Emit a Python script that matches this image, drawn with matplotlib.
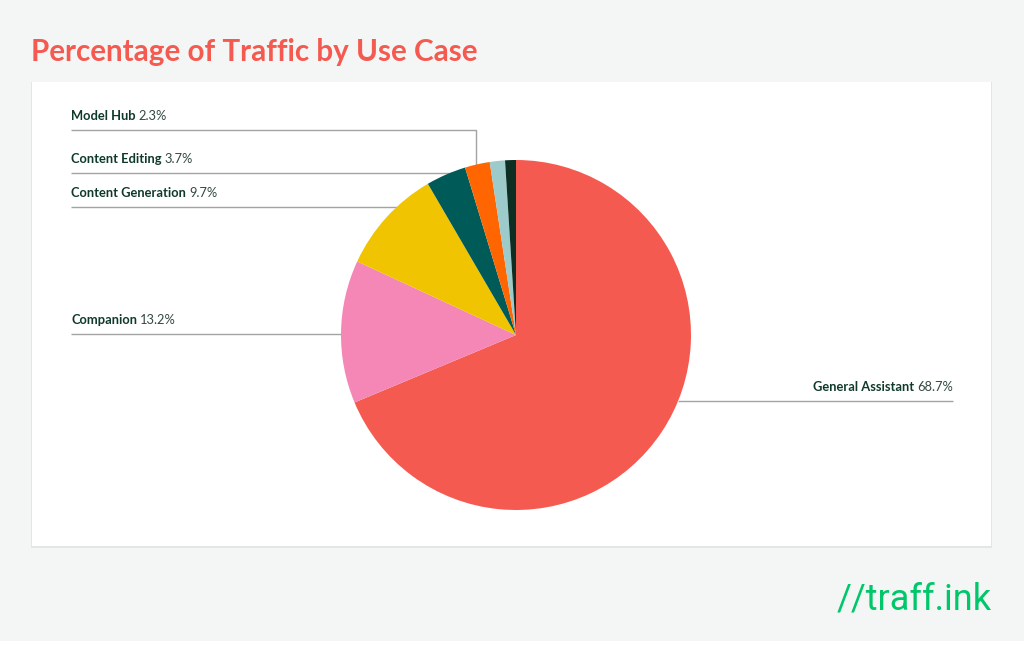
import numpy as np
import matplotlib.pyplot as plt
from matplotlib.patches import Rectangle

# data (percent of traffic)
use_cases = ["General Assistant", "Companion", "Content Generation",
             "Content Editing", "Model Hub", "Other A", "Other B"]
shares = [68.7, 13.2, 9.7, 3.7, 2.3, 1.4, 1.0]
colors = ["#F55A50", "#F587B7", "#F0C400", "#005B58", "#FF6500", "#9DCACA", "#0D2E22"]

# which slices get a label, and the label row (pixel y from top)
labelled = ["General Assistant", "Companion", "Content Generation", "Content Editing", "Model Hub"]
label_y = {"Model Hub": 116, "Content Editing": 159, "Content Generation": 193,
           "Companion": 320, "General Assistant": 387}

W, H = 1024, 661
fig = plt.figure(figsize=(W / 100, H / 100), dpi=100)
fig.patch.set_facecolor("white")
ax = fig.add_axes([0, 0, 1, 1])
ax.set_xlim(0, W)
ax.set_ylim(0, H)
ax.axis("off")

def Y(y):  # pixel-from-top -> axes y
    return H - y

# page background and card
ax.add_patch(Rectangle((0, Y(641)), W, 641, facecolor="#F4F6F5", edgecolor="none", zorder=0))
ax.add_patch(Rectangle((31, Y(548)), 961, 466, facecolor="#E4E6E5", edgecolor="none", zorder=1))
ax.add_patch(Rectangle((32, Y(546)), 959, 464, facecolor="white", edgecolor="none", zorder=2))

ax.text(31, Y(52), "Percentage of Traffic by Use Case", color="#F55A50", fontsize=21.3,
        fontweight="bold", family="Lato", va="center", ha="left", zorder=5)

# pie
cx, cy, r = 516, Y(335), 175
wedges, _ = ax.pie(shares, colors=colors, startangle=90, counterclock=False,
                   center=(cx, cy), radius=r, frame=True,
                   wedgeprops=dict(linewidth=0, zorder=4))
for w in wedges:
    w.set_zorder(4)
ax.set_xlim(0, W)
ax.set_ylim(0, H)
ax.set_aspect("equal")
ax.axis("off")

line_kw = dict(color="#A3A3A3", lw=1, zorder=3, solid_capstyle="butt")
txt_dark = "#0F3A2B"
for name in labelled:
    i = use_cases.index(name)
    pct = shares[i]
    ty = label_y[name]
    ly = ty + 14
    if name == "General Assistant":
        x_end = 953
        dy = abs(Y(ly) - cy)
        x_start = cx + np.sqrt(r ** 2 - dy ** 2)
        ax.plot([x_start, x_end], [Y(ly), Y(ly)], **line_kw)
        t = ax.text(x_end, Y(ty), f"{pct}%", color="#33493F", fontsize=9.3, family="Lato",
                    ha="right", va="center", zorder=5)
        fig.canvas.draw()
        bb = t.get_window_extent().transformed(ax.transData.inverted())
        ax.text(bb.x0 - 3, Y(ty), name, color=txt_dark, fontsize=9.3, fontweight="bold",
                family="Lato", ha="right", va="center", zorder=5)
        continue
    if name == "Model Hub":
        w = wedges[i]
        mid = np.deg2rad((w.theta1 + w.theta2) / 2)
        xm = cx + r * np.cos(mid) - 1
        ye = cy + np.sqrt(r ** 2 - (xm - cx) ** 2)
        ax.plot([71, xm, xm], [Y(ly), Y(ly), ye - 2], **line_kw)
    else:
        dy = abs(Y(ly) - cy)
        x_end = cx - np.sqrt(max(r ** 2 - dy ** 2, 0))
        ax.plot([71, x_end], [Y(ly), Y(ly)], **line_kw)
    t = ax.text(71, Y(ty), name, color=txt_dark, fontsize=9.3, fontweight="bold",
                family="Lato", ha="left", va="center", zorder=5)
    fig.canvas.draw()
    bb = t.get_window_extent().transformed(ax.transData.inverted())
    ax.text(bb.x1 + 3, Y(ty), f"{pct}%", color="#33493F", fontsize=9.3, family="Lato",
            ha="left", va="center", zorder=5)

# logo
ax.text(992, Y(600), "//traff.ink", color="#00C76A", fontsize=26, family="Roboto",
        ha="right", va="center", zorder=5)

fig.savefig("out.png", dpi=100, facecolor=fig.get_facecolor())
